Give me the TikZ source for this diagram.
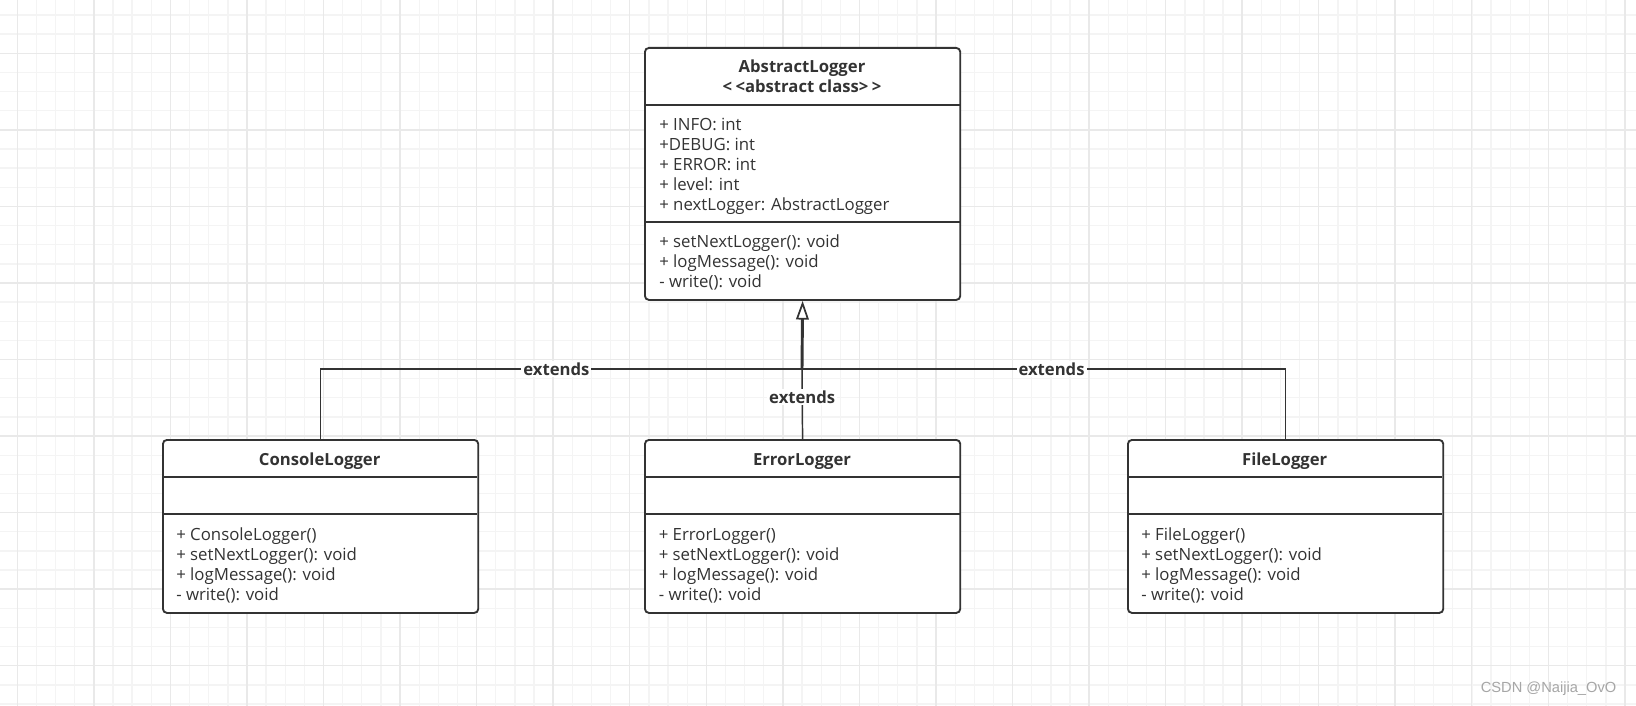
\documentclass[tikz,border=0pt]{standalone}
\usepackage{fontspec}
\setmainfont{Open Sans}
\newfontfamily\markfont{Liberation Sans}
\usetikzlibrary{arrows.meta,positioning}

\definecolor{ink}{HTML}{333333}
\definecolor{gridminor}{HTML}{F4F4F4}
\definecolor{gridmajor}{HTML}{E9E9E9}
\definecolor{markgray}{HTML}{A6A6A6}

\tikzset{
  classbox/.style={draw=ink, line width=1.4pt, rounded corners=3pt, fill=white,
    minimum width=236.5pt, anchor=north west, inner sep=0pt},
  sepline/.style={draw=ink, line width=1.4pt},
  classname/.style={text=ink, font=\bfseries\fontsize{12.5}{15.3}\selectfont,
    align=center, inner sep=0pt},
  members/.style={text=ink, font=\fontsize{12.6}{15}\selectfont, align=left,
    anchor=north west, inner sep=0pt},
  extline/.style={draw=ink, line width=1.1pt},
  trunkline/.style={draw=ink, line width=2.2pt,
    -{Triangle[open, length=14pt, width=9.5pt, line width'=1.3pt, fill=white]}},
  extlabel/.style={text=ink, font=\bfseries\fontsize{12.5}{14}\selectfont,
    fill=white, inner sep=1.5pt},
}

\begin{document}
\begin{tikzpicture}[x=0.75pt, y=-0.75pt]
    % Page and background grid
    \useasboundingbox (0,0) rectangle (1636,706);
    \fill[white] (0,0) rectangle (1636,706);
    \foreach \k in {0,...,85}
        \draw[gridminor, line width=1pt] ({17.3+19.14*\k},0) -- ({17.3+19.14*\k},706);
    \foreach \k in {-2,...,34}
        \draw[gridminor, line width=1pt] (0,{53.3+19.14*\k}) -- (1636,{53.3+19.14*\k});
    \foreach \k in {0,...,21}
        \draw[gridmajor, line width=1.1pt] ({17.3+76.55*\k},0) -- ({17.3+76.55*\k},706);
    \foreach \k in {-1,...,8}
        \draw[gridmajor, line width=1.1pt] (0,{53.3+76.55*\k}) -- (1636,{53.3+76.55*\k});

    % Draw the abstract base class
    \node[classbox, minimum height=189pt] (abstract) at (644,47) {};
    \draw[sepline] (644,105) -- (960,105); % name / fields
    \draw[sepline] (644,222) -- (960,222); % fields / methods
    \node[classname, anchor=north] (abstractname) at (802,58)
        {\strut AbstractLogger\\<\kern2.5pt<abstract class>\kern2.5pt>};
    \node[members] (abstractattrs) at (659,116)
        {\strut + INFO: int\\+DEBUG: int\\+ ERROR: int\\+ level: int\\+ nextLogger: AbstractLogger};
    \node[members] (abstractops) at (659,233)
        {\strut + setNextLogger(): void\\+ logMessage(): void\\- write(): void};

    % Draw the console logger
    \node[classbox, minimum height=129.75pt] (console) at (162,439) {};
    \draw[sepline] (162,477) -- (477,477);
    \draw[sepline] (162,514) -- (477,514);
    \node[classname, anchor=base] (consolename) at (319.7,465.3) {ConsoleLogger};
    \node[members] (consoleops) at (176,526.7)
        {\strut + ConsoleLogger()\\+ setNextLogger(): void\\+ logMessage(): void\\- write(): void};

    % Draw the error logger
    \node[classbox, minimum height=129.75pt] (error) at (644,439) {};
    \draw[sepline] (644,477) -- (960,477);
    \draw[sepline] (644,514) -- (960,514);
    \node[classname, anchor=base] (errorname) at (802,465.3) {ErrorLogger};
    \node[members] (errorops) at (658.5,526.7)
        {\strut + ErrorLogger()\\+ setNextLogger(): void\\+ logMessage(): void\\- write(): void};

    % Draw the file logger
    \node[classbox, minimum height=129.75pt] (file) at (1127,439) {};
    \draw[sepline] (1127,477) -- (1442,477);
    \draw[sepline] (1127,514) -- (1442,514);
    \node[classname, anchor=base] (filename) at (1284.7,465.3) {FileLogger};
    \node[members] (fileops) at (1141,526.7)
        {\strut + FileLogger()\\+ setNextLogger(): void\\+ logMessage(): void\\- write(): void};

    % Draw the inheritance connectors
    \coordinate (hub) at (802,369);
    \draw[extline] (console.north) |- (hub) node[extlabel, pos=0.745] (extleft) {extends};
    \draw[extline] (file.north) |- (hub) node[extlabel, pos=0.742] (extright) {extends};
    \draw[extline] (error.north) -- (hub) node[extlabel, pos=0.6] (extmid) {extends};
    \draw[trunkline] (hub) -- (abstract.south);

    % Watermark
    \node[text=markgray, font=\markfont\fontsize{11}{13}\selectfont, anchor=east]
        (watermark) at (1621,689) {CSDN @Naijia\_OvO};
\end{tikzpicture}
\end{document}
